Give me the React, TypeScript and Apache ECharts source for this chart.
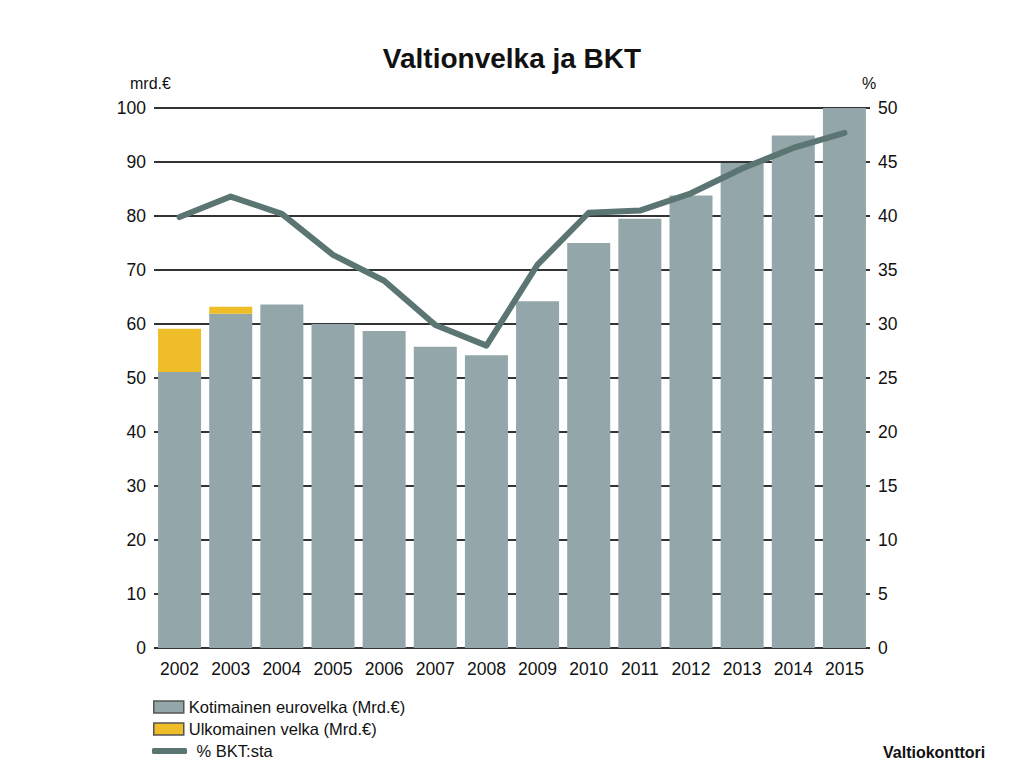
import React, { useEffect, useRef } from "react";
import * as echarts from "echarts";

const years = ["2002","2003","2004","2005","2006","2007","2008","2009","2010","2011","2012","2013","2014","2015"];
const domestic = [51.1, 61.9, 63.6, 60.0, 58.7, 55.8, 54.2, 64.2, 75.0, 79.5, 83.8, 89.8, 94.9, 100.0];
const foreign = [8.0, 1.3, 0, 0, 0, 0, 0, 0, 0, 0, 0, 0, 0, 0];
const gdpShare = [39.9, 41.8, 40.2, 36.4, 34.0, 29.9, 28.0, 35.5, 40.3, 40.5, 42.1, 44.4, 46.3, 47.7];

const nameDomestic = "Kotimainen eurovelka (Mrd.€)";
const nameForeign = "Ulkomainen velka (Mrd.€)";
const nameLine = "% BKT:sta";

export default function App() {
  const ref = useRef<HTMLDivElement>(null);
  useEffect(() => {
    document.body.style.margin = "0";
    const chart = echarts.init(ref.current!, null, { renderer: "svg" });
    const font = "Liberation Sans, Arial, sans-serif";
    chart.setOption({
      animation: false,
      backgroundColor: "#ffffff",
      textStyle: { fontFamily: font },
      title: {
        text: "Valtionvelka ja BKT",
        left: "center",
        top: 39,
        textStyle: { fontSize: 28, fontWeight: "bold", color: "#111", fontFamily: font },
      },
      grid: { left: 154, right: 154, top: 108, bottom: 120 },
      legend: [
        {
          data: [
            { name: nameDomestic, itemStyle: { borderColor: "#555", borderWidth: 1.5 } },
            { name: nameForeign, itemStyle: { borderColor: "#555", borderWidth: 1.5 } },
          ],
          orient: "vertical",
          left: 153,
          top: 698,
          padding: 0,
          itemWidth: 30,
          itemHeight: 12,
          itemGap: 4,
          icon: "rect",
          textStyle: { fontSize: 16.5, lineHeight: 18, color: "#111", fontFamily: font },
        },
        {
          data: [{ name: nameLine, icon: "roundRect" }],
          orient: "vertical",
          left: 152,
          top: 742,
          padding: 0,
          itemWidth: 35,
          itemHeight: 6,
          formatter: (n: string) => " " + n,
          textStyle: { fontSize: 16.5, lineHeight: 18, color: "#111", fontFamily: font },
        },
      ],
      xAxis: {
        type: "category",
        data: years,
        axisLine: { show: false },
        axisTick: { show: false },
        axisLabel: { fontSize: 17.5, color: "#111", margin: 12 },
      },
      yAxis: [
        {
          type: "value",
          min: 0,
          max: 100,
          interval: 10,
          axisLine: { show: false },
          axisTick: { show: false },
          axisLabel: { fontSize: 17.5, color: "#111", margin: 8 },
          splitLine: { lineStyle: { color: "#333", width: 2 } },
        },
        {
          type: "value",
          min: 0,
          max: 50,
          interval: 5,
          axisLine: { show: false },
          axisTick: { show: false },
          axisLabel: { fontSize: 17.5, color: "#111", margin: 8 },
          splitLine: { show: false },
        },
      ],
      series: [
        {
          name: nameDomestic,
          type: "bar",
          stack: "debt",
          data: domestic,
          barWidth: 43,
          itemStyle: { color: "#93a6a9" },
        },
        {
          name: nameForeign,
          type: "bar",
          stack: "debt",
          data: foreign,
          barWidth: 43,
          itemStyle: { color: "#efbd28" },
        },
        {
          name: nameLine,
          type: "line",
          yAxisIndex: 1,
          data: gdpShare,
          symbol: "none",
          lineStyle: { color: "#5b7573", width: 6, join: "round", cap: "round" },
          itemStyle: { color: "#5b7573" },
        },
      ],
      graphic: [
        {
          type: "text",
          left: 130,
          top: 75,
          style: { text: "mrd.€", fontSize: 16, fill: "#111", fontFamily: font },
        },
        {
          type: "text",
          left: 862,
          top: 75,
          style: { text: "%", fontSize: 16, fill: "#111", fontFamily: font },
        },
        {
          type: "text",
          left: 883,
          top: 744,
          style: { text: "Valtiokonttori", fontSize: 16, fontWeight: "bold", fill: "#111", fontFamily: font },
        },
      ],
    });
    return () => chart.dispose();
  }, []);
  return <div ref={ref} style={{ width: 1024, height: 768 }} />;
}
